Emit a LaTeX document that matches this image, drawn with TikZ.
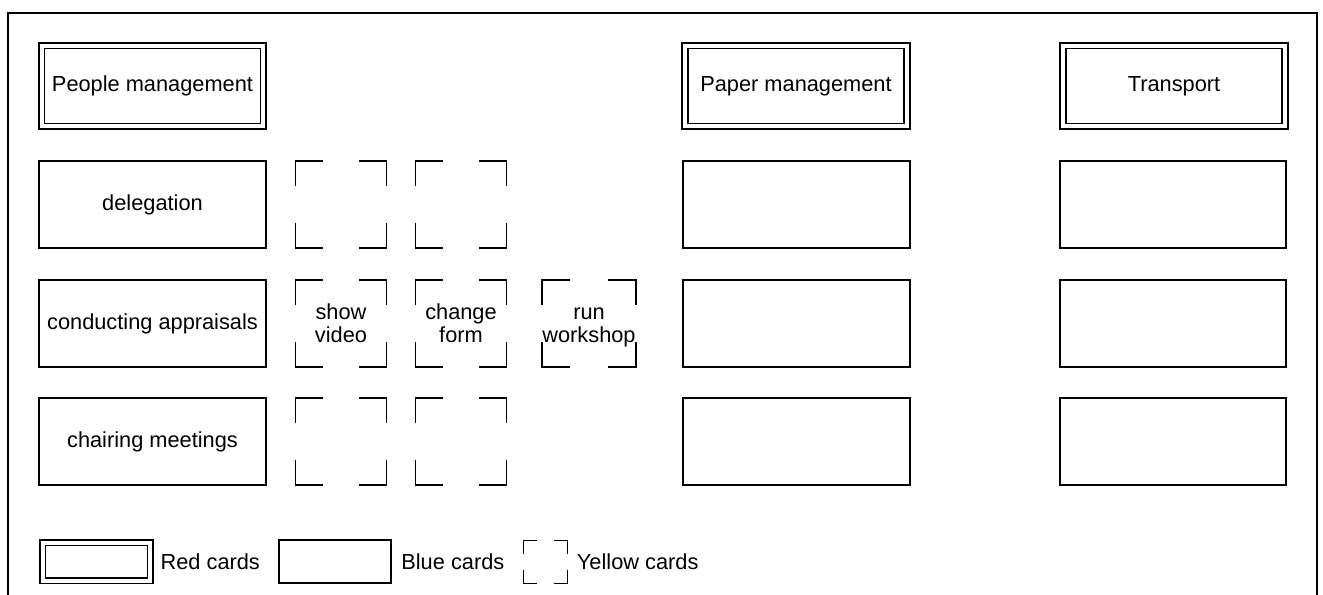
\documentclass[tikz,border=0pt]{standalone}
\usepackage{fontspec}
\setsansfont{Liberation Sans}
\usepackage{tikz}
\usetikzlibrary{positioning}

% yellow cards only show their four corners (node, arm across, arm down)
\newcommand{\yellowcorners}[3]{%
  \draw[card line] (#1.north west) ++(#2,0) -- (#1.north west) -- ++(0,#3);
  \draw[card line] (#1.north east) ++(-#2,0) -- (#1.north east) -- ++(0,#3);
  \draw[card line] (#1.south west) ++(#2,0) -- (#1.south west) -- ++(0,-#3);
  \draw[card line] (#1.south east) ++(-#2,0) -- (#1.south east) -- ++(0,-#3);
}

\begin{document}
\begin{tikzpicture}[
    x=0.02cm, y=-0.02cm,
    % ── shared styles ───────────────────────────────────────────────
    card font/.style={font=\sffamily\fontsize{12.4}{13.2}\selectfont},
    card line/.style={line width=0.9pt, line cap=rect},
    red card/.style={
        rectangle, draw, line width=0.9pt,
        double, double distance=0.08cm,
        card font, inner sep=0pt, align=center,
        minimum width=4.44cm, minimum height=1.62cm,
    },
    blue card/.style={
        rectangle, draw, line width=0.9pt,
        card font, inner sep=0pt, align=center,
        minimum width=4.53cm, minimum height=1.73cm,
    },
    yellow card/.style={
        rectangle, card font, inner sep=0pt, align=center,
        text depth=0pt,
        minimum width=1.81cm, minimum height=1.73cm,
    },
    legend text/.style={card font, inner sep=0pt, anchor=west},
    frame line/.style={line width=1.5pt},
]
\useasboundingbox (0,0) rectangle (1323,595);

% =============================================================
%  FRAME (open at the bottom)
% =============================================================
\draw[frame line] (8,595) |- (1317,13) -- (1317,595);

% =============================================================
%  RED CARDS -- one per area
% =============================================================
\node[red card] (r1) at (152.5, 86) {People management};
\node[red card] (r2) at (796, 86) {Paper management};
\node[red card] (r3) at (1174, 86) {Transport};

% =============================================================
%  BLUE CARDS
% =============================================================
\node[blue card] (b1) at (152.5, 204.5) {delegation};
\node[blue card] (b2) at (152.5, 323.5) {conducting appraisals};
\node[blue card] (b3) at (152.5, 441.5) {chairing meetings};

\node[blue card] (p1) at (796.5, 204.5) {};
\node[blue card] (p2) at (796.5, 323.5) {};
\node[blue card] (p3) at (796.5, 441.5) {};

\node[blue card] (t1) at (1173, 204.5) {};
\node[blue card] (t2) at (1173, 323.5) {};
\node[blue card] (t3) at (1173, 441.5) {};

% =============================================================
%  YELLOW CARDS
% =============================================================
\node[yellow card] (ya1) at (341, 204.5) {};
\node[yellow card] (ya2) at (461, 204.5) {};

\node[yellow card] (yb1) at (341, 323.5) {show\\video};
\node[yellow card] (yb2) at (461, 323.5) {change\\form};
\node[yellow card] (yb3) at (589, 323.5) {\vphantom{h}run\\workshop};

\node[yellow card] (yc1) at (341, 441.5) {};
\node[yellow card] (yc2) at (461, 441.5) {};

\foreach \n in {ya1, ya2, yb1, yb2, yb3, yc1, yc2} {
    \yellowcorners{\n}{27}{24}
}

% =============================================================
%  Legend
% =============================================================
\node[red card, minimum width=2.16cm, minimum height=0.76cm] (legR) at (96.5, 561.5) {};
\node[legend text, right=0.18cm of legR] {Red cards};

\node[blue card, minimum width=2.25cm, minimum height=0.87cm] (legB) at (335, 561.5) {};
\node[legend text, right=0.18cm of legB] {Blue cards};

\node[yellow card, minimum width=0.87cm, minimum height=0.85cm] (legY) at (545.5, 562) {};
\yellowcorners{legY}{13}{13}
\node[legend text, right=0.18cm of legY] {Yellow cards};

\end{tikzpicture}
\end{document}
